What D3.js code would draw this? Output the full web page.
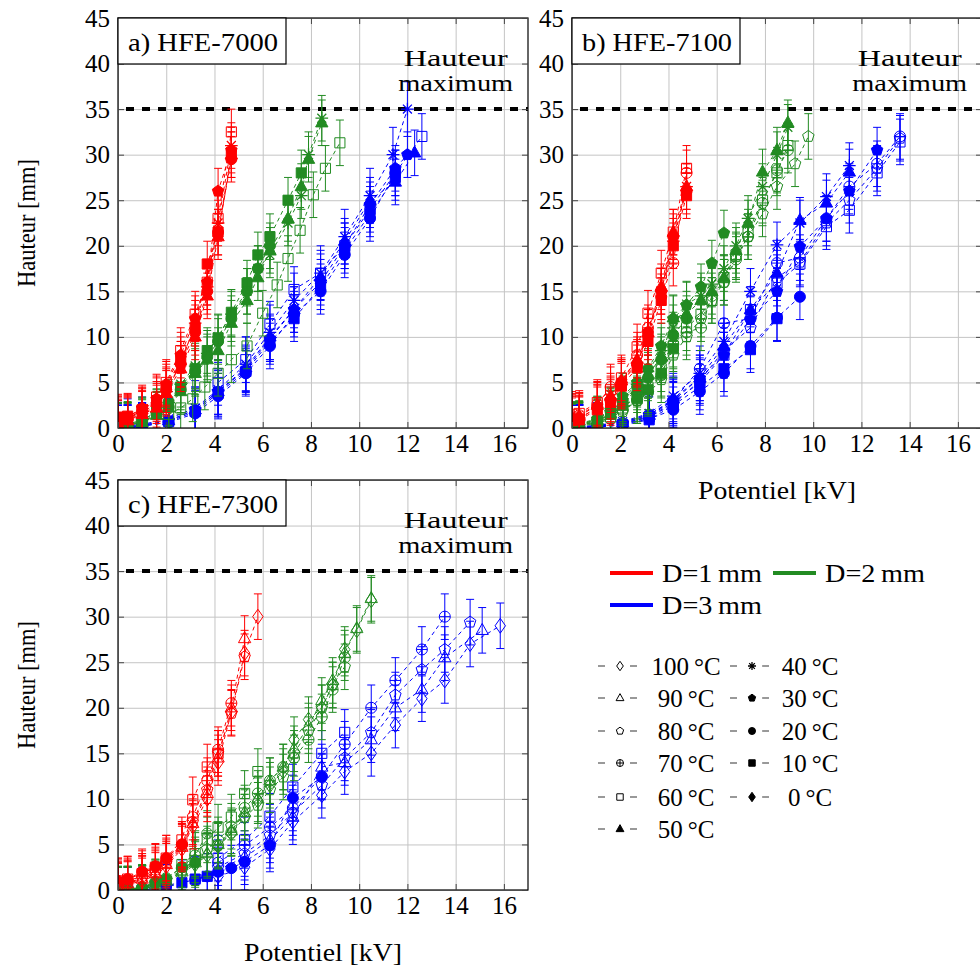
<!DOCTYPE html>
<html><head><meta charset="utf-8">
<script src="https://cdn.jsdelivr.net/npm/d3@7"></script>
<style>
body{margin:0;background:#fff;}
svg{display:block;font-family:"Liberation Serif","Times New Roman",serif;}
</style></head><body>
<svg id="chart" width="980" height="968"></svg>
<script>
// ---------- DATA ----------
const xTicks = [0, 2, 4, 6, 8, 10, 12, 14, 16];
const yTicks = [0, 5, 10, 15, 20, 25, 30, 35, 40, 45];
const panelTitles = ["a) HFE-7000", "b) HFE-7100", "c) HFE-7300"];
const diameterLabels = ["D=1\u2009mm", "D=2\u2009mm", "D=3\u2009mm"];
const legendTempsCol1 = [100, 90, 80, 70, 60, 50];
const legendTempsCol2 = [40, 30, 20, 10, 0];
const maxHeight = 35;
const maxLabel = ["Hauteur", "maximum"];

// series: [temperature °C, voltages kV, heights mm, error mm]
const hfe7000_D1 = [
  [10, [0,0.4,1.0,1.6,2.0,2.6,3.2,3.7,4.15,4.7], [1.2,1.3,2.0,3.0,4.5,7.5,11.0,18.0,21.5,30.0], 2.5],
  [20, [0,0.4,1.0,1.6,2.0,2.6,3.2,3.7,4.15,4.7], [0.8,1.0,1.8,2.6,4.2,7.0,10.5,15.0,21.5,29.5], 2.5],
  [30, [0,0.4,1.0,1.6,2.0,2.6,3.2,3.7,4.15,4.7], [1.0,1.2,2.2,3.2,4.8,8.0,12.0,16.0,26.0,30.5], 2.5],
  [40, [0,0.4,1.0,1.6,2.0,2.6,3.2,3.7,4.15,4.7], [0.6,0.9,1.6,2.4,4.0,7.0,11.5,15.5,22.5,31.0], 2.5],
  [50, [0,0.4,1.0,1.6,2.0,2.6,3.2,3.7,4.15,4.7], [0.5,0.8,1.5,2.2,3.8,6.5,10.0,14.5,21.0,30.0], 2.5],
  [60, [0,0.4,1.0,1.6,2.0,2.6,3.2,3.7,4.15,4.7], [1.0,1.1,1.9,3.4,5.0,8.5,12.5,16.0,23.0,32.5], 2.5]
];
const hfe7000_D2 = [
  [10, [0,0.4,1.0,1.6,2.1,2.6,3.2,3.7,4.15,4.7,5.35,5.8,6.3,7.05,7.6], [0.3,0.3,0.8,1.8,2.6,4.5,6.5,8.5,9.9,12.7,15.9,19.0,21.0,25.0,28.0], 2.5],
  [20, [0,0.4,1.0,1.6,2.1,2.6,3.2,3.7,4.15,4.7,5.35,5.8,6.3], [0.2,0.2,0.7,1.5,2.3,4.2,6.2,7.8,9.5,12.0,15.0,17.5,20.0], 2.5],
  [40, [0,0.4,1.0,1.6,2.1,2.6,3.2,3.7,4.15,4.7,5.35,5.8,6.3,7.05,7.6,7.9,8.45], [0.3,0.4,0.9,1.7,2.8,4.8,6.8,8.2,10.0,12.5,15.0,17.5,19.0,22.5,25.5,30.0,34.0], 2.5],
  [50, [0,0.4,1.0,1.6,2.1,2.6,3.2,3.7,4.15,4.7,5.35,5.8,6.3,7.05,7.6,7.9,8.45], [0.2,0.3,0.6,1.4,2.2,4.0,6.0,7.5,8.5,11.5,14.0,16.5,19.5,23.0,26.5,29.5,33.5], 2.5],
  [60, [2.1,2.6,3.1,3.6,4.15,4.7,5.35,6.0,6.6,7.05,7.55,8.1,8.6,9.2], [1.5,2.2,3.2,4.5,6.0,7.5,9.0,12.6,15.7,18.6,21.7,25.6,28.5,31.3], 2.5]
];
const hfe7000_D3 = [
  [10, [0,0.4,1.0,2.1,3.2,4.15,5.3,6.3,7.3,8.4,9.4,10.45,11.5], [0,0,0.2,0.7,1.8,3.8,6.2,9.5,12.0,15.5,19.5,23.5,27.5], 2.5],
  [20, [0,0.4,1.0,2.1,3.2,4.15,5.3,6.3,7.3,8.4,9.4,10.45,11.5], [0,0,0.2,0.6,1.6,3.5,6.0,9.0,12.5,15.0,19.0,23.0,28.0], 2.5],
  [30, [0,0.4,1.0,2.1,3.2,4.15,5.3,6.3,7.3,8.4,9.4,10.45,11.5,12.0], [0,0.1,0.3,0.8,2.0,4.0,6.4,9.8,13.0,16.0,20.0,24.5,28.5,30.0], 2.5],
  [40, [0,0.4,1.0,2.1,3.2,4.15,5.3,6.3,7.3,8.4,9.4,10.45,11.4,12.0], [0,0.2,0.4,1.0,2.2,4.2,7.0,10.5,14.0,17.0,21.0,25.5,30.0,35.0], 3.0],
  [50, [0,0.4,1.0,2.1,3.2,4.15,5.3,6.3,7.3,8.4,9.4,10.45,11.5,12.3], [0,0,0.3,0.8,2.0,4.0,6.6,10.0,13.0,16.6,20.5,25.0,27.0,30.2], 2.5],
  [60, [4.15,5.3,6.3,7.3,8.4,9.4,10.45,11.5,12.6], [5.0,7.5,11.4,15.2,17.0,20.0,24.0,28.0,32.0], 2.5]
];

const hfe7100_D1 = [
  [10, [0,0.3,1.05,1.6,2.05,2.7,3.15,3.7,4.2,4.75], [0.8,0.9,2.0,2.8,4.6,6.6,9.5,14.0,20.0,25.5], 2.5],
  [20, [0,0.3,1.05,1.6,2.05,2.7,3.15,3.7,4.2,4.75], [1.0,1.0,2.3,3.0,5.0,7.0,10.5,15.0,21.0,26.0], 2.5],
  [40, [0,0.3,1.05,1.6,2.05,2.7,3.15,3.7,4.2,4.75], [1.0,1.1,2.2,3.2,5.0,7.2,10.0,15.0,20.5,26.5], 2.5],
  [50, [0,0.3,1.05,1.6,2.05,2.7,3.15,3.7,4.2,4.75], [1.2,1.3,2.5,3.5,5.2,7.5,10.5,15.5,21.5,26.5], 2.5],
  [60, [0,0.3,1.05,1.6,2.05,2.7,3.15,3.7,4.2,4.75], [1.5,1.6,2.8,4.2,5.5,8.9,12.6,17.0,21.5,28.5], 2.5],
  [70, [0,0.3,1.05,1.6,2.05,2.7,3.15,3.7,4.2,4.75], [1.3,1.4,2.6,4.5,4.8,8.0,11.0,14.4,18.1,28.0], 2.5]
];
const hfe7100_D2 = [
  [10, [0,0.3,1.05,1.6,2.1,2.7,3.15,3.7,4.2], [0.2,0.3,0.7,1.5,2.5,3.2,4.2,6.0,8.7], 2.5],
  [20, [0,0.3,1.05,1.6,2.1,2.7,3.15,3.7,4.2,4.75], [0.3,0.4,0.9,1.8,3.0,4.5,5.5,7.5,10.2,12.0], 2.5],
  [30, [0,0.3,1.05,1.6,2.1,2.7,3.15,3.7,4.2,4.75,5.35,5.8,6.3], [0.4,0.5,1.0,2.0,3.5,5.0,6.5,9.0,12.0,13.5,15.5,18.1,21.4], 2.5],
  [40, [0,0.3,1.05,1.6,2.1,2.7,3.15,3.7,4.2,4.75,5.35,5.8,6.3,6.8,7.3,7.9,8.5,8.95], [0.3,0.4,0.9,1.9,3.2,4.8,6.2,8.5,11.0,13.6,14.5,15.8,17.5,20.0,23.0,26.5,30.0,33.0], 2.5],
  [50, [0,0.3,1.05,1.6,2.1,2.7,3.15,3.7,4.2,4.75,5.35,5.8,6.3,6.8,7.3,7.9,8.5,8.95], [0.2,0.3,0.8,1.6,2.8,4.2,5.8,7.8,12.1,12.5,14.0,15.0,16.5,19.5,22.5,28.1,30.5,33.5], 2.5],
  [60, [0,0.3,1.05,1.6,2.1,2.7,3.15,3.7,4.2,4.75,5.35,5.8,6.3,6.8,7.3,7.9,8.5,8.95], [0.2,0.3,0.6,1.2,2.2,3.5,4.5,6.5,9.0,11.0,12.5,14.0,16.5,19.0,21.5,25.0,28.0,31.0], 2.5],
  [70, [0,0.3,1.05,1.6,2.1,2.7,3.15,3.7,4.2,4.75,5.35,5.8,6.3,6.8,7.3,7.9,8.5,8.95], [0.1,0.2,0.5,1.0,2.0,3.0,4.0,5.8,9.2,10.5,11.0,14.5,16.0,18.5,21.0,24.7,28.3,30.5], 2.5],
  [80, [2.1,2.7,3.15,3.7,4.2,4.75,5.35,5.8,6.3,6.8,7.3,7.9,8.5,9.25,9.8], [1.8,3.0,3.8,5.3,8.0,10.0,12.0,14.0,16.0,18.8,21.0,23.5,26.5,29.0,32.0], 2.5]
];
const hfe7100_D3 = [
  [10, [0,0.3,1.05,2.1,3.2,4.2,5.3,6.3,7.4,8.5], [0,0,0.1,0.3,0.9,2.5,4.5,6.5,8.6,12.0], 2.5],
  [20, [0,0.3,1.05,2.1,3.2,4.2,5.3,6.3,7.4,8.5,9.45], [0,0,0.2,0.4,1.0,2.0,4.0,6.0,9.0,12.1,14.4], 2.5],
  [30, [0,0.3,1.05,2.1,3.2,4.2,5.3,6.3,7.4,8.5,9.45,10.55,11.5,12.65], [0,0.1,0.3,0.6,1.5,3.0,5.5,8.0,11.9,15.0,19.9,23.0,26.0,30.5], 2.5],
  [40, [0,0.3,1.05,2.1,3.2,4.2,5.3,6.3,7.4,8.5,9.45,10.55,11.5], [0,0.1,0.3,0.7,1.6,3.5,6.0,9.5,15.0,20.1,22.5,25.4,28.8], 2.5],
  [50, [0,0.3,1.05,2.1,3.2,4.2,5.3,6.3,7.4,8.5,9.45,10.55,11.5], [0,0.1,0.2,0.6,1.4,3.2,5.5,9.0,13.0,17.0,22.8,24.7,28.1], 2.5],
  [60, [0,0.3,1.05,2.1,3.2,4.2,5.3,6.3,7.4,8.5,9.45,10.55,11.5,12.65,13.6], [0,0,0.1,0.4,1.2,2.8,5.0,8.0,13.0,15.9,18.0,22.1,23.9,28.0,31.4], 2.5],
  [70, [0,0.3,1.05,2.1,3.2,4.2,5.3,6.3,7.4,8.5,9.45,10.55,11.5,12.65,13.6], [0,0,0.1,0.5,1.3,3.0,6.5,11.5,12.0,18.1,18.7,23.0,26.5,29.0,32.0], 2.5],
  [80, [0,0.3,1.05,2.1,3.2,4.2,5.3,6.3,7.4,8.5,9.45,10.55,11.5,12.65,13.6], [0,0,0.2,0.5,1.2,2.6,5.2,8.5,11.0,16.5,18.2,22.5,25.0,28.5,31.8], 2.5]
];

const hfe7300_D1 = [
  [20, [0,0.4,1.0,1.55,2.0,2.65], [1.0,1.2,2.0,2.6,3.5,5.0], 2.5],
  [60, [0,0.4,1.0,1.55,2.0,2.65,3.1,3.7,4.15], [1.0,1.2,1.8,2.5,3.5,5.5,9.9,13.5,15.0], 2.5],
  [70, [0,0.4,1.0,1.55,2.0,2.65,3.1,3.7,4.15,4.7], [0.8,1.0,1.5,2.2,3.2,5.0,8.0,12.0,15.4,20.5], 2.5],
  [80, [0,0.4,1.0,1.55,2.0,2.65,3.1,3.7,4.15,4.7,5.25], [0.6,0.8,1.3,2.0,3.0,4.8,7.5,11.0,15.0,19.4,25.6], 2.5],
  [90, [0,0.4,1.0,1.55,2.0,2.65,3.1,3.7,4.15,4.7,5.25], [0.5,0.7,1.2,1.8,2.8,4.7,7.3,10.6,14.5,20.0,27.6], 2.5],
  [100, [0,0.4,1.0,1.55,2.0,2.65,3.1,3.7,4.15,4.7,5.25,5.8], [0.4,0.6,1.0,1.6,2.6,4.5,7.0,10.0,14.0,19.5,26.0,30.0], 2.5]
];
const hfe7300_D2 = [
  [20, [0,0.4,1.0,1.55,2.0,2.65,3.2], [0.1,0.1,0.2,0.8,1.2,2.5,3.0], 2.5],
  [60, [2.65,3.2,3.7,4.15,4.7,5.25,5.8], [2.8,4.0,5.5,6.9,8.0,10.6,13.0], 2.5],
  [70, [0,0.4,1.0,1.55,2.0,2.65,3.2,3.7,4.15,4.7,5.25,5.8,6.3,6.85,7.3,7.9,8.45,8.9,9.4], [0.1,0.1,0.3,0.9,1.3,2.5,3.8,6.2,4.9,6.3,9.0,10.6,12.0,13.5,14.5,16.5,19.0,22.0,25.5], 2.5],
  [80, [0,0.4,1.0,1.55,2.0,2.65,3.2,3.7,4.15,4.7,5.25,5.8,6.3,6.85,7.3,7.9,8.45,8.9,9.4], [0,0.1,0.2,0.8,1.1,2.2,3.3,4.5,5.5,7.0,8.0,9.3,11.0,12.4,15.0,17.5,20.0,22.5,24.5], 2.5],
  [90, [0,0.4,1.0,1.55,2.0,2.65,3.2,3.7,4.15,4.7,5.25,5.8,6.3,6.85,7.3,7.9,8.45,8.9,9.4,9.9,10.5], [0,0,0.2,0.6,1.0,2.0,3.0,4.0,5.0,6.5,8.5,10.0,12.0,13.5,15.5,18.0,20.8,23.0,26.0,28.7,32.0], 2.5],
  [100, [0,0.4,1.0,1.55,2.0,2.65,3.2,3.7,4.15,4.7,5.25,5.8,6.3,6.85,7.3,7.9,8.45,8.9,9.4,9.9,10.5], [0,0,0.1,0.5,0.9,1.8,2.8,3.8,4.8,6.2,8.0,9.8,11.5,13.0,16.5,18.7,20.0,22.5,26.4,28.5,31.8], 2.5]
];
const hfe7300_D3 = [
  [10, [0,0.4,1.0,2.0,2.65,3.2,3.7], [0,0,0,0.3,0.8,1.2,1.5], 2.5],
  [20, [0,0.4,1.0,2.0,3.2,3.7,4.15,4.7,5.25,6.3,7.25,8.45], [0,0,0.2,0.5,1.1,1.5,2.0,2.4,3.1,4.9,10.1,12.4], 2.5],
  [60, [4.15,5.25,6.3,7.25,8.45,9.4], [3.5,5.5,8.1,11.3,15.0,17.3], 2.5],
  [70, [4.15,5.25,6.3,7.25,8.45,9.4,10.5,11.5,12.6,13.55], [3.0,4.9,6.9,9.0,12.5,16.0,20.0,23.0,26.4,30.0], 2.5],
  [80, [4.15,5.25,6.3,7.25,8.45,9.4,10.5,11.5,12.6,13.55,14.6], [2.5,4.0,6.0,8.5,11.5,14.5,17.3,21.4,24.2,26.4,29.4], 2.5],
  [90, [4.15,5.25,6.3,7.25,8.45,9.4,10.5,11.5,12.6,13.55,15.1], [2.2,3.6,5.5,8.0,13.5,14.0,16.5,20.0,22.0,25.5,28.5], 2.5],
  [100, [4.15,5.25,6.3,7.25,8.45,9.4,10.5,11.5,12.6,13.55,14.6,15.85], [1.5,2.5,4.5,7.5,10.4,13.0,15.0,18.1,21.0,23.0,27.0,29.0], 2.5]
];

// ---------- STYLE / LAYOUT ----------
const colors = ["#ff0000", "#228b22", "#0000ff"];
const FONT = 25;
const W = 410, H = 410;
const panels = [
  {left: 118, top: 18, title: panelTitles[0], groups: [hfe7000_D1, hfe7000_D2, hfe7000_D3], ylab: true, xlab: false},
  {left: 572, top: 18, title: panelTitles[1], groups: [hfe7100_D1, hfe7100_D2, hfe7100_D3], ylab: false, xlab: true},
  {left: 118, top: 480, title: panelTitles[2], groups: [hfe7300_D1, hfe7300_D2, hfe7300_D3], ylab: true, xlab: true}
];

const svg = d3.select("#chart");
const defs = svg.append("defs");

function markerPath(T, r) {
  const pent = (rr) => d3.range(5).map(k => {
    const a = -Math.PI / 2 + k * 2 * Math.PI / 5;
    return [rr * Math.cos(a), rr * Math.sin(a)];
  });
  if (T === 100 || T === 0) return `M0,${-r*1.35}L${r*0.95},0L0,${r*1.35}L${-r*0.95},0Z`;
  if (T === 90 || T === 50) return `M0,${-r*1.25}L${r*1.12},${r*0.75}L${-r*1.12},${r*0.75}Z`;
  if (T === 80 || T === 30) return "M" + pent(r * 1.1).map(p => p.join(",")).join("L") + "Z";
  if (T === 70) return `M${r},0A${r},${r} 0 1 0 ${-r},0A${r},${r} 0 1 0 ${r},0ZM${-r},0H${r}M0,${-r}V${r}`;
  if (T === 20) return `M${r},0A${r},${r} 0 1 0 ${-r},0A${r},${r} 0 1 0 ${r},0Z`;
  if (T === 60 || T === 10) { const s = r * 0.92; return `M${-s},${-s}H${s}V${s}H${-s}Z`; }
  if (T === 40) {
    let d = "";
    [0, 45, 90, 135].forEach(a => {
      const c = Math.cos(a * Math.PI / 180) * r * 1.15, s = Math.sin(a * Math.PI / 180) * r * 1.15;
      d += `M${-c},${-s}L${c},${s}`;
    });
    return d;
  }
  return "";
}
function isFilled(T) { return T <= 50 && T !== 40; }

function drawMarker(g, T, cx, cy, r, color) {
  g.append("path")
    .attr("d", markerPath(T, r))
    .attr("transform", `translate(${cx},${cy})`)
    .attr("fill", isFilled(T) ? color : "none")
    .attr("stroke", color)
    .attr("stroke-width", T === 40 ? 1.3 : 1);
}

panels.forEach((p, pi) => {
  const x = d3.scaleLinear().domain([0, 17]).range([p.left, p.left + W]);
  const y = d3.scaleLinear().domain([0, 45]).range([p.top + H, p.top]);
  const g = svg.append("g");
  const clipId = "clip" + pi;
  defs.append("clipPath").attr("id", clipId).append("rect")
    .attr("x", p.left).attr("y", p.top).attr("width", W).attr("height", H);

  // grid
  g.append("g").attr("transform", `translate(0,${p.top + H})`)
    .call(d3.axisBottom(x).tickValues(xTicks).tickSize(-H).tickFormat(""))
    .call(a => { a.select(".domain").remove(); a.selectAll("line").attr("stroke", "#c4c4c4").attr("stroke-width", 1); });
  g.append("g").attr("transform", `translate(${p.left},0)`)
    .call(d3.axisLeft(y).tickValues(yTicks).tickSize(-W).tickFormat(""))
    .call(a => { a.select(".domain").remove(); a.selectAll("line").attr("stroke", "#c4c4c4").attr("stroke-width", 1); });

  const plot = g.append("g").attr("clip-path", `url(#${clipId})`);

  // max height dashed line
  plot.append("line")
    .attr("x1", p.left).attr("x2", p.left + W)
    .attr("y1", y(maxHeight)).attr("y2", y(maxHeight))
    .attr("stroke", "#000").attr("stroke-width", 4)
    .attr("stroke-dasharray", "8,8").attr("stroke-dashoffset", 8);

  // data: draw D=3 first, then D=2, then D=1
  [2, 1, 0].forEach(di => {
    const color = colors[di];
    p.groups[di].forEach(([T, xs, ys, err]) => {
      const pts = xs.map((v, i) => [v, ys[i]]);
      const sg = plot.append("g");
      sg.append("path")
        .attr("d", d3.line().x(d => x(d[0])).y(d => y(d[1]))(pts))
        .attr("fill", "none").attr("stroke", color).attr("stroke-width", 1)
        .attr("stroke-dasharray", "4,3.5");
      pts.forEach(d => {
        const cx = x(d[0]);
        sg.append("line").attr("x1", cx).attr("x2", cx)
          .attr("y1", y(d[1] - err)).attr("y2", y(d[1] + err))
          .attr("stroke", color).attr("stroke-width", 1);
        [d[1] - err, d[1] + err].forEach(v => {
          sg.append("line").attr("x1", cx - 4).attr("x2", cx + 4)
            .attr("y1", y(v)).attr("y2", y(v))
            .attr("stroke", color).attr("stroke-width", 1);
        });
      });
      pts.forEach(d => drawMarker(sg, T, x(d[0]), y(d[1]), 5.5, color));
    });
  });

  // frame
  g.append("rect").attr("x", p.left).attr("y", p.top).attr("width", W).attr("height", H)
    .attr("fill", "none").attr("stroke", "#000").attr("stroke-width", 1.2);

  // ticks (inward) + labels
  const styleAx = a => {
    a.select(".domain").remove();
    a.selectAll("line").attr("stroke", "#444").attr("stroke-width", 1);
    a.selectAll("text").attr("font-size", FONT).attr("fill", "#000")
      .attr("font-family", "'Liberation Serif','Times New Roman',serif");
  };
  g.append("g").attr("transform", `translate(0,${p.top + H})`)
    .call(d3.axisBottom(x).tickValues(xTicks).tickSizeInner(-6).tickSizeOuter(0).tickPadding(6))
    .call(styleAx);
  g.append("g").attr("transform", `translate(0,${p.top})`)
    .call(d3.axisTop(x).tickValues(xTicks).tickSizeInner(-6).tickSizeOuter(0).tickFormat(""))
    .call(styleAx);
  g.append("g").attr("transform", `translate(${p.left},0)`)
    .call(d3.axisLeft(y).tickValues(yTicks).tickSizeInner(-6).tickSizeOuter(0).tickPadding(8))
    .call(styleAx);
  g.append("g").attr("transform", `translate(${p.left + W},0)`)
    .call(d3.axisRight(y).tickValues(yTicks).tickSizeInner(-6).tickSizeOuter(0).tickFormat(""))
    .call(styleAx);

  // "Hauteur maximum" label
  const mlLen = [104, 115];
  maxLabel.forEach((t, i) => {
    g.append("text").attr("x", x(14)).attr("y", p.top + 48 + i * 25)
      .attr("text-anchor", "middle").attr("font-size", 24)
      .attr("textLength", mlLen[i]).attr("lengthAdjust", "spacingAndGlyphs").text(t);
  });

  // title box
  g.append("rect").attr("x", p.left).attr("y", p.top).attr("width", 168).attr("height", 46)
    .attr("fill", "#fff").attr("stroke", "#000").attr("stroke-width", 1.2);
  g.append("text").attr("x", p.left + 10).attr("y", p.top + 33)
    .attr("font-size", FONT).attr("textLength", 150).attr("lengthAdjust", "spacingAndGlyphs")
    .text(p.title);

  if (p.ylab) {
    g.append("text").attr("transform", `translate(35,${p.top + H / 2}) rotate(-90)`)
      .attr("text-anchor", "middle").attr("font-size", FONT)
      .attr("textLength", 128).attr("lengthAdjust", "spacingAndGlyphs").text("Hauteur [mm]");
  }
  if (p.xlab) {
    g.append("text").attr("x", p.left + W / 2).attr("y", p.top + H + 71)
      .attr("text-anchor", "middle").attr("font-size", FONT)
      .attr("textLength", 158).attr("lengthAdjust", "spacingAndGlyphs").text("Potentiel [kV]");
  }
});

// ---------- LEGEND ----------
const lg = svg.append("g");
const dPos = [[610, 573], [773, 573], [610, 605]];
diameterLabels.forEach((lab, i) => {
  const [lx, ly] = dPos[i];
  lg.append("line").attr("x1", lx).attr("x2", lx + 43).attr("y1", ly).attr("y2", ly)
    .attr("stroke", colors[i]).attr("stroke-width", 4);
  lg.append("text").attr("x", lx + 52).attr("y", ly + 9).attr("font-size", FONT)
    .attr("textLength", 100).attr("lengthAdjust", "spacingAndGlyphs").text(lab);
});
const rowY = [666, 698, 731, 763, 797, 829];
[[legendTempsCol1, 598, 686], [legendTempsCol2, 730, 810]].forEach(([temps, x0, tc]) => {
  temps.forEach((T, i) => {
    const yy = rowY[i];
    lg.append("line").attr("x1", x0).attr("x2", x0 + 7).attr("y1", yy).attr("y2", yy)
      .attr("stroke", "#555").attr("stroke-width", 1.2);
    lg.append("line").attr("x1", x0 + 32).attr("x2", x0 + 39).attr("y1", yy).attr("y2", yy)
      .attr("stroke", "#555").attr("stroke-width", 1.2);
    drawMarker(lg, T, x0 + 22, yy, 3.5, "#000");
    lg.append("text").attr("x", tc).attr("y", yy + 9).attr("text-anchor", "middle")
      .attr("font-size", FONT).text(`${T}\u2009°C`);
  });
});
</script></body></html>
